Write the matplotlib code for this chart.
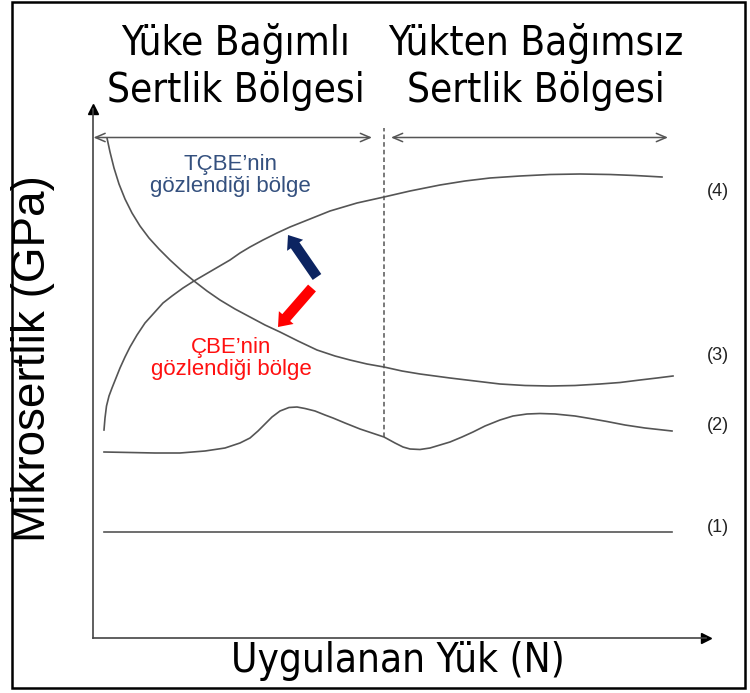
import numpy as np
import matplotlib.pyplot as plt
from matplotlib.patches import Rectangle
from matplotlib import font_manager as fm

# x: uygulanan yük, y: mikrosertlik (şematik, keyfi birim)
x1 = [11, 579]
y1 = [106, 106]

x2 = [11, 37, 62, 87, 112, 132, 147, 157, 165, 172, 179, 187, 196, 204, 212, 222, 232, 240, 252, 267,
      279, 291, 302, 310, 317, 327, 337, 347, 357, 369, 380, 392, 407, 420, 434, 447, 462, 482, 497, 514,
      532, 552, 579]
y2 = [186, 185.5, 185, 185, 187, 190, 195, 200, 207, 214, 221, 227, 230.5, 231, 229.5, 227, 223, 220, 215, 209,
      205, 201, 195, 191, 189, 188.5, 190, 193, 196, 201, 206, 212, 218, 222, 224, 224.5, 224, 222, 219.5, 216.5,
      213, 210, 207]

x3 = [14, 17, 21, 26, 32, 39, 47, 56, 66, 77, 89, 101, 114, 127, 142, 157, 172, 187, 205, 224,
      242, 257, 274, 291, 309, 327, 357, 382, 407, 432, 457, 482, 507, 527, 547, 564, 580]
y3 = [500, 486, 470, 454, 439, 425, 412, 400, 389, 378, 367, 357, 347, 338, 329, 321, 313, 306, 297, 288,
      282, 278, 274, 271, 267, 264, 260, 257, 254, 252.5, 252, 252.5, 254, 255.5, 258, 260, 262]

x4 = [11, 12, 13.5, 16, 19, 23, 27, 32, 37, 44, 52, 61, 70, 79, 90, 101, 113, 125, 137, 147,
      157, 170, 184, 197, 217, 237, 264, 291, 317, 347, 372, 397, 427, 457, 487, 517, 542, 569]
y4 = [208, 220, 232, 242, 250, 260, 270, 281, 291, 303, 315, 325, 335, 342, 350, 357, 364, 371, 378, 385,
      391, 398, 405, 411, 419, 427, 435, 441, 447, 453, 457, 460, 462, 463.5, 464, 463.5, 462.5, 461]

curve_names = ['(1)', '(2)', '(3)', '(4)']
label_y = [110, 213, 283, 446]

boundary_x = 291
region_y = 500.5

arial = ['Liberation Sans', 'DejaVu Sans']


def narrow_font(size):
    # dar (condensed) bir yazı tipi varsa onu kullan
    pref = []
    for f in fm.fontManager.ttflist:
        tag = (f.name + ' ' + f.fname).lower()
        if ('narrow' in tag or 'condensed' in tag) and 'bold' not in tag and 'italic' not in tag \
                and 'oblique' not in tag and 'light' not in tag and 'black' not in tag:
            rank = 0 if 'liberation' in tag else 1
            pref.append((rank, f.fname))
    if pref:
        pref.sort()
        return dict(fontproperties=fm.FontProperties(fname=pref[0][1], size=size))
    return dict(family=['Roboto', 'DejaVu Sans'], fontsize=size)


W, H = 750, 693
fig = plt.figure(figsize=(W / 100, H / 100), dpi=100)
fig.patches.append(Rectangle((12 / W, 5 / H), 733 / W, 686 / H, transform=fig.transFigure,
                             fill=False, edgecolor='black', linewidth=1.8))

ax = fig.add_axes([93 / W, 55 / H, 613 / W, 529 / H])
ax.set_xlim(0, 613)
ax.set_ylim(0, 529)
ax.set_xticks([])
ax.set_yticks([])
for s in ['top', 'right']:
    ax.spines[s].set_visible(False)
for s in ['left', 'bottom']:
    ax.spines[s].set_color('#444444')
    ax.spines[s].set_linewidth(1.2)
ax.plot(1, 0, '>', color='black', markersize=7, transform=ax.transAxes, clip_on=False)
ax.plot(0, 1, '^', color='black', markersize=7, transform=ax.transAxes, clip_on=False)

for xs, ys in [(x1, y1), (x2, y2), (x3, y3), (x4, y4)]:
    ax.plot(xs, ys, color='#555555', linewidth=1.2, solid_joinstyle='round', antialiased=True)
for name, ly in zip(curve_names, label_y):
    ax.text(625, ly, name, fontsize=13, family=arial, color='#222222',
            ha='center', va='center', clip_on=False)

# bölge sınırı ve bölge okları
ax.plot([boundary_x, boundary_x], [201, 510], color='#555555', linewidth=1.1, linestyle=(0, (3, 2)))
ax.annotate('', xy=(0.5, region_y), xytext=(279, region_y),
            arrowprops=dict(arrowstyle='<->,head_length=0.7,head_width=0.3', color='#555555', lw=1.1,
                            shrinkA=0, shrinkB=0))
ax.annotate('', xy=(298, region_y), xytext=(575, region_y),
            arrowprops=dict(arrowstyle='<->,head_length=0.7,head_width=0.3', color='#555555', lw=1.1,
                            shrinkA=0, shrinkB=0))

# kalın oklar
ax.annotate('', xy=(195, 403), xytext=(224, 361),
            arrowprops=dict(arrowstyle='simple,head_length=0.9,head_width=1.4,tail_width=0.75',
                            color='#0c2461', lw=0, shrinkA=0, shrinkB=0))
ax.annotate('', xy=(185, 311), xytext=(219, 350),
            arrowprops=dict(arrowstyle='simple,head_length=0.9,head_width=1.4,tail_width=0.75',
                            color='#ff0000', lw=0, shrinkA=0, shrinkB=0))

ax.text(137, 462.5, 'TÇBE\u2019nin\ngözlendiği bölge', fontsize=16, family=arial,
        color='#34507e', ha='center', va='center', linespacing=1.05)
ax.text(138, 279.5, 'ÇBE\u2019nin\ngözlendiği bölge', fontsize=16, family=arial,
        color='#ff1010', ha='center', va='center', linespacing=1.05)

# başlıklar ve eksen adları
fig.text(236 / W, 1 - 67 / H, 'Yüke Bağımlı\nSertlik Bölgesi', ha='center', va='center',
         linespacing=1.2, **narrow_font(29))
fig.text(536 / W, 1 - 67 / H, 'Yükten Bağımsız\nSertlik Bölgesi', ha='center', va='center',
         linespacing=1.2, **narrow_font(29))
fig.text(398 / W, 1 - 661 / H, 'Uygulanan Yük (N)', ha='center', va='center', **narrow_font(29))
fig.text(33 / W, 1 - 359 / H, 'Mikrosertlik (GPa)', fontsize=33, family=arial,
         ha='center', va='center', rotation=90)

fig.savefig('out.png', dpi=100)
